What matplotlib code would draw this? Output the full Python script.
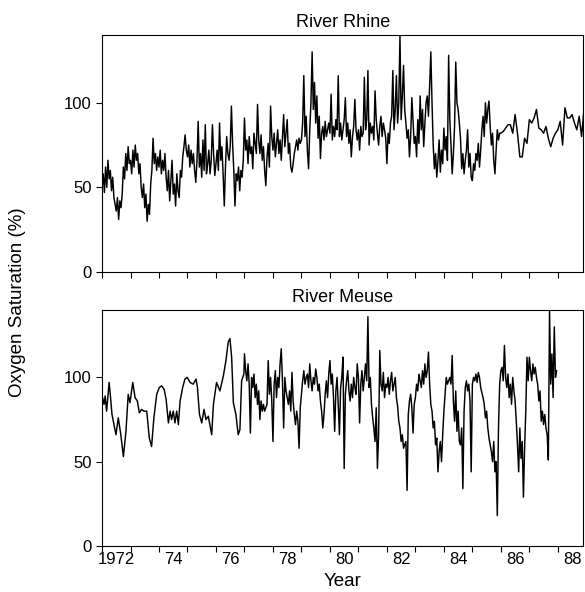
import matplotlib.pyplot as plt
import numpy as np

plt.rcParams['font.family'] = ['Liberation Sans', 'DejaVu Sans']

# River Rhine, roughly fortnightly samples 1972-1985 (24 per year)
rhine_1972 = [52, 58, 47, 62, 50, 66, 55, 60, 48, 56, 44, 40, 36, 44, 31, 42, 38, 46, 62, 55, 70, 60, 74, 64]
rhine_1973 = [66, 58, 72, 62, 75, 66, 70, 58, 64, 50, 44, 52, 38, 46, 30, 40, 34, 52, 60, 79, 64, 70, 60, 68]
rhine_1974 = [62, 72, 58, 66, 60, 70, 56, 48, 60, 42, 54, 66, 46, 52, 39, 58, 48, 44, 60, 56, 68, 74, 81, 72]
rhine_1975 = [68, 75, 62, 72, 64, 70, 60, 53, 66, 89, 62, 70, 56, 78, 60, 87, 58, 64, 72, 58, 66, 87, 70, 57]
rhine_1976 = [64, 72, 60, 88, 66, 74, 58, 39, 62, 80, 70, 66, 74, 98, 76, 60, 39, 58, 54, 62, 48, 60, 56, 66]
rhine_1977 = [91, 72, 78, 64, 80, 70, 74, 61, 82, 76, 70, 99, 78, 70, 81, 66, 74, 60, 51, 68, 76, 62, 98, 80]
rhine_1978 = [72, 82, 68, 76, 84, 70, 78, 66, 80, 93, 74, 82, 90, 70, 76, 62, 59, 64, 70, 74, 78, 72, 79, 76]
rhine_1979 = [78, 88, 116, 80, 92, 72, 61, 84, 100, 130, 96, 112, 88, 104, 79, 92, 67, 82, 86, 78, 89, 80, 84, 88]
rhine_1980 = [82, 105, 78, 86, 80, 90, 84, 116, 80, 88, 78, 84, 90, 103, 80, 88, 76, 84, 68, 80, 86, 102, 84, 78]
rhine_1981 = [84, 72, 86, 80, 82, 115, 84, 90, 119, 75, 88, 82, 86, 78, 107, 90, 82, 75, 86, 92, 80, 88, 84, 79]
rhine_1982 = [64, 82, 76, 88, 92, 119, 84, 96, 116, 88, 100, 140, 90, 104, 122, 96, 88, 79, 84, 68, 80, 103, 90, 76]
rhine_1983 = [80, 68, 90, 76, 104, 84, 96, 74, 88, 100, 104, 92, 110, 130, 100, 75, 61, 70, 56, 66, 78, 59, 72, 64]
rhine_1984 = [85, 72, 80, 66, 128, 90, 75, 58, 70, 86, 124, 100, 96, 88, 79, 61, 70, 58, 66, 72, 84, 62, 70, 56]
rhine_1985 = [54, 64, 60, 70, 66, 76, 62, 72, 84, 92, 80, 100, 88, 96, 101, 86, 75, 82, 66, 58, 72, 84, 78, 82]
# monthly 1986-1988
rhine_monthly = [82, 83, 85, 87, 87, 82, 93, 82, 68, 68, 79, 76,
                 90, 88, 91, 96, 85, 84, 82, 86, 79, 74, 79, 82,
                 84, 89, 75, 97, 91, 91, 93, 88, 84, 92, 80, 96]

# River Meuse, monthly-ish 1972-1976
meuse_early_t = [1972.0, 1972.02, 1972.07, 1972.11, 1972.16, 1972.25, 1972.3, 1972.35, 1972.42, 1972.49,
                 1972.57, 1972.66, 1972.75, 1972.84, 1972.92, 1972.98, 1973.08, 1973.16, 1973.24, 1973.31,
                 1973.39, 1973.47, 1973.57, 1973.66, 1973.74, 1973.82, 1973.92, 1974.01, 1974.09, 1974.18,
                 1974.25, 1974.33, 1974.39, 1974.44, 1974.5, 1974.56, 1974.62, 1974.68, 1974.74, 1974.83,
                 1974.91, 1974.99, 1975.09, 1975.2, 1975.3, 1975.35, 1975.42, 1975.5, 1975.58, 1975.65,
                 1975.73, 1975.85, 1975.91, 1976.02, 1976.14, 1976.26, 1976.35, 1976.43, 1976.49, 1976.55,
                 1976.61, 1976.7, 1976.78, 1976.84, 1976.9, 1976.98]
meuse_early = [83, 88, 84, 89, 80, 97, 88, 78, 72, 66,
               76, 66, 53, 68, 90, 85, 97, 88, 86, 79,
               81, 80, 80, 64, 59, 76, 90, 94, 95, 93,
               87, 73, 80, 75, 80, 73, 80, 72, 86, 94,
               99, 100, 97, 96, 99, 94, 78, 73, 81, 75,
               77, 66, 84, 97, 92, 101, 110, 121, 123, 112,
               85, 78, 66, 69, 98, 102]
# fortnightly 1977-1987
meuse_1977 = [114, 104, 98, 108, 96, 67, 100, 94, 102, 88, 96, 84, 92, 75, 86, 80, 84, 80, 82, 84, 110, 90, 100, 86]
meuse_1978 = [62, 96, 104, 88, 100, 94, 108, 117, 98, 70, 100, 92, 88, 84, 92, 80, 103, 86, 78, 72, 80, 74, 58, 82]
meuse_1979 = [90, 98, 104, 96, 100, 102, 94, 108, 98, 92, 100, 96, 105, 100, 92, 96, 86, 80, 70, 78, 90, 98, 88, 102]
meuse_1980 = [110, 96, 102, 88, 68, 92, 100, 84, 66, 94, 100, 112, 46, 90, 98, 104, 92, 86, 96, 88, 100, 94, 90, 108]
meuse_1981 = [100, 73, 96, 104, 92, 100, 108, 98, 136, 94, 100, 84, 76, 70, 62, 82, 46, 66, 116, 96, 92, 103, 88, 96]
meuse_1982 = [94, 100, 90, 98, 103, 92, 96, 100, 88, 83, 74, 70, 62, 66, 58, 60, 62, 33, 78, 86, 90, 82, 67, 84]
meuse_1983 = [88, 96, 92, 102, 98, 94, 104, 96, 108, 100, 104, 115, 96, 84, 80, 70, 74, 60, 64, 44, 56, 62, 50, 66]
meuse_1984 = [80, 90, 100, 96, 98, 100, 96, 113, 86, 74, 92, 68, 80, 62, 60, 70, 34, 80, 94, 98, 92, 96, 86, 44]
meuse_1985 = [96, 100, 98, 102, 97, 103, 100, 94, 91, 88, 84, 76, 80, 70, 64, 60, 56, 50, 62, 44, 50, 18, 70, 96]
meuse_1986 = [104, 106, 98, 119, 100, 94, 102, 88, 96, 84, 100, 92, 86, 74, 60, 44, 70, 52, 62, 29, 58, 80, 112, 98]
meuse_1987 = [112, 104, 98, 108, 102, 106, 100, 96, 86, 92, 74, 80, 72, 78, 70, 66, 51, 140, 96, 114, 88, 130, 100, 104]

year_labels = ['1972', '74', '76', '78', '80', '82', '84', '86', '88']


def yearly(start, blocks):
    t, v = [], []
    for k, vals in enumerate(blocks):
        n = len(vals)
        t += [start + k + i / n for i in range(n)]
        v += vals
    return t, v


rh_t, rh_v = yearly(1972, [rhine_1972, rhine_1973, rhine_1974, rhine_1975, rhine_1976,
                           rhine_1977, rhine_1978, rhine_1979, rhine_1980, rhine_1981,
                           rhine_1982, rhine_1983, rhine_1984, rhine_1985])
m_t, m_v = yearly(1986, [rhine_monthly[0:12], rhine_monthly[12:24], rhine_monthly[24:36]])
rh_t += m_t
rh_v += m_v

me_t, me_v = yearly(1977, [meuse_1977, meuse_1978, meuse_1979, meuse_1980, meuse_1981,
                           meuse_1982, meuse_1983, meuse_1984, meuse_1985, meuse_1986, meuse_1987])
me_t = meuse_early_t + me_t
me_v = meuse_early + me_v

fig = plt.figure(figsize=(5.85, 5.92), dpi=100)
ax1 = fig.add_axes([0.1744, 0.5405, 0.823, 0.4004])
ax2 = fig.add_axes([0.1744, 0.0777, 0.823, 0.3987])

for ax, t, v, title in [(ax1, rh_t, rh_v, 'River Rhine'), (ax2, me_t, me_v, 'River Meuse')]:
    ax.plot(t, v, color='black', lw=1.05)
    ax.set_xlim(1972, 1988.9)
    ax.set_ylim(0, 140)
    ax.set_yticks([0, 50, 100])
    ax.tick_params(axis='y', direction='out', length=4, width=0.8, labelsize=12)
    ax.set_xticks(np.arange(1972, 1989))
    ax.tick_params(axis='x', which='major', direction='out', length=4, width=0.8, labelbottom=False)
    ax.set_title(title, fontsize=13, pad=6)
    for s in ax.spines.values():
        s.set_linewidth(0.8)

ax2.set_xticks(np.arange(1972.5, 1989, 2), minor=True)
ax2.set_xticklabels(year_labels, minor=True)
ax2.tick_params(axis='x', which='minor', length=0, labelsize=12, pad=4)

fig.text(0.586, 0.003, 'Year', ha='center', va='bottom', fontsize=13.5)
fig.text(0.03, 0.49, 'Oxygen Saturation (%)', rotation=90, ha='center', va='center', fontsize=13.5)

fig.savefig('out.png', dpi=100)
